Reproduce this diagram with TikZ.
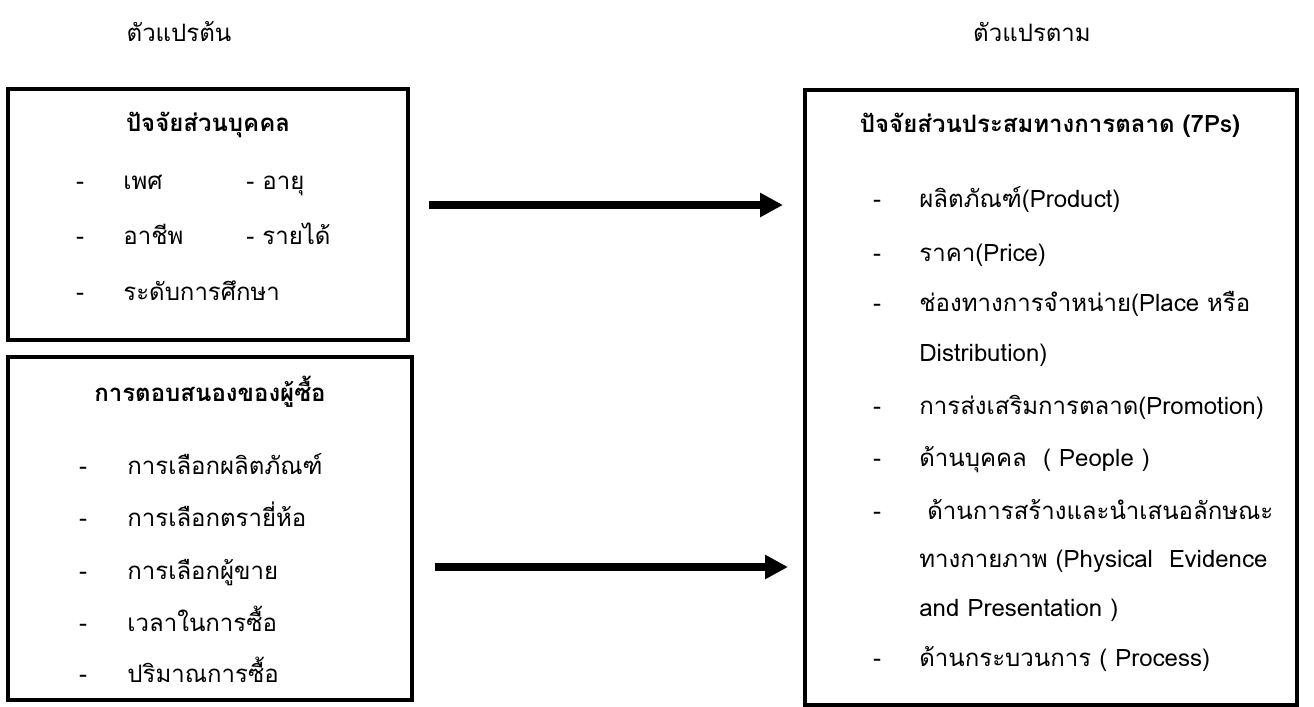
\documentclass[tikz,border=0pt]{standalone}
\usepackage{fontspec}
\setmainfont[Script=Thai]{Loma}
\usepackage{tikz}
\usetikzlibrary{arrows.meta,positioning}
\tikzset{>={Triangle[length=11.5pt,width=11.5pt]}}

\begin{document}
\begin{tikzpicture}[x=0.5pt, y=-0.5pt,
                    box/.style={draw, line width=1.6pt, inner sep=0pt, outer sep=0pt},
                    flow/.style={line width=4pt, ->},
                    head/.style={font=\fontsize{12}{14}\selectfont},
                    title/.style={font=\bfseries\fontsize{12}{14}\selectfont},
                    item/.style={anchor=base west, inner sep=0pt, font=\fontsize{12}{14}\selectfont},
                    bar/.style={anchor=base, inner sep=0pt, font=\fontsize{12}{14}\selectfont},
                   ]

\useasboundingbox (0,0) rectangle (1314,707);

% column headings
\node[head] (indep) at (179,32) {ตัวแปรต้น};
\node[head] (dep) at (1032,32) {ตัวแปรตาม};

% boxes
\node[box, minimum width=200pt, minimum height=125.5pt] (personal) at (208,214.5) {};
\node[box, minimum width=202pt, minimum height=171.5pt] (response) at (210,528.5) {};
\node[box, minimum width=246pt, minimum height=307.5pt] (mix) at (1051,397.5) {};

% personal factors
\node[title] (ptitle) at (208,125) {ปัจจัยส่วนบุคคล};
\node[bar] (pd1) at (80,189) {-};
\node[item] (p1) at (123,189) {เพศ};
\node[item] (p2) at (246,189) {- อายุ};
\node[bar] (pd2) at (80,244) {-};
\node[item] (p3) at (123,244) {อาชีพ};
\node[item] (p4) at (246,244) {- รายได้};
\node[bar] (pd3) at (80,300) {-};
\node[item] (p5) at (123,300) {ระดับการศึกษา};

% buyer response
\node[title] (rtitle) at (210,392) {การตอบสนองของผู้ซื้อ};
\node[bar] (rd1) at (83,474) {-};
\node[item] (r1) at (127,474) {การเลือกผลิตภัณฑ์};
\node[bar] (rd2) at (83,526) {-};
\node[item] (r2) at (127,526) {การเลือกตรายี่ห้อ};
\node[bar] (rd3) at (83,579) {-};
\node[item] (r3) at (127,579) {การเลือกผู้ขาย};
\node[bar] (rd4) at (83,631) {-};
\node[item] (r4) at (127,631) {เวลาในการซื้อ};
\node[bar] (rd5) at (83,682) {-};
\node[item] (r5) at (127,682) {ปริมาณการซื้อ};

% marketing mix
\node[title] (mtitle) at (1050,125) {ปัจจัยส่วนประสมทางการตลาด (7Ps)};
\node[bar] (md1) at (877,207) {-};
\node[item] (m1) at (919,207) {ผลิตภัณฑ์(Product)};
\node[bar] (md2) at (877,261) {-};
\node[item] (m2) at (919,261) {ราคา(Price)};
\node[bar] (md3) at (877,311) {-};
\node[item] (m3) at (919,311) {ช่องทางการจำหน่าย(Place หรือ};
\node[item] (m3b) at (919,361) {Distribution)};
\node[bar] (md4) at (877,414) {-};
\node[item] (m4) at (919,414) {การส่งเสริมการตลาด(Promotion)};
\node[bar] (md5) at (877,466) {-};
\node[item] (m5) at (919,466) {ด้านบุคคล~~( People )};
\node[bar] (md6) at (877,519) {-};
\node[item] (m6) at (927,519) {ด้านการสร้างและนำเสนอลักษณะ};
\node[item] (m6b) at (919,567) {ทางกายภาพ (Physical~~Evidence};
\node[item] (m6c) at (919,616) {and Presentation )};
\node[bar] (md7) at (877,666) {-};
\node[item] (m7) at (919,666) {ด้านกระบวนการ ( Process)};

% arrows
\coordinate (t1) at ([yshift=4.75pt]personal.east);
\coordinate (t2) at ([yshift=-19.25pt]response.east);
\draw[flow, shorten <=10.5pt, shorten >=11pt] (t1) -- (t1 -| mix.west);
\draw[flow, shorten <=11.5pt, shorten >=8.5pt] (t2) -- (t2 -| mix.west);

\end{tikzpicture}
\end{document}
